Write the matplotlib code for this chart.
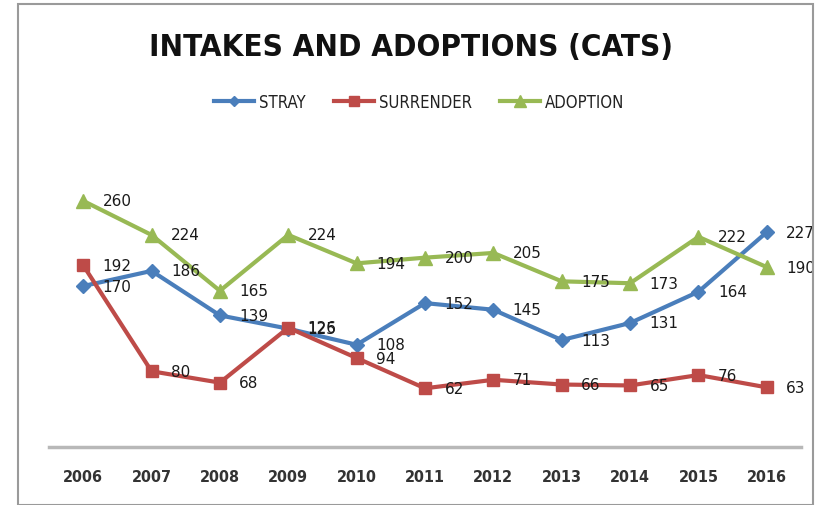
import matplotlib
matplotlib.use("Agg")
import matplotlib.pyplot as plt
from matplotlib.patches import Rectangle
from matplotlib.lines import Line2D

years = ["2006", "2007", "2008", "2009", "2010", "2011", "2012", "2013", "2014", "2015", "2016"]
stray = [170, 186, 139, 125, 108, 152, 145, 113, 131, 164, 227]
surrender = [192, 80, 68, 126, 94, 62, 71, 66, 65, 76, 63]
adoption = [260, 224, 165, 224, 194, 200, 205, 175, 173, 222, 190]

title = "INTAKES AND ADOPTIONS (CATS)"
series_names = ["STRAY", "SURRENDER", "ADOPTION"]
colors = ["#4A7EBB", "#BE4B48", "#98B954"]
markers = ["D", "s", "^"]
msizes = [7, 9, 10]

W, H = 817, 506
fig = plt.figure(figsize=(W / 100, H / 100), dpi=100)
fig.patch.set_facecolor("white")

# outer chart border
fig.patches.append(Rectangle((18 / W, 0.0), (813 - 18) / W, (H - 5) / H,
                             transform=fig.transFigure, fill=False,
                             edgecolor="#9a9a9a", linewidth=1.5))

ax_left, ax_right = 49 / W, 801 / W
ax_bottom = 1 - 448 / H
ax_top = 1 - 164 / H
ax = fig.add_axes([ax_left, ax_bottom, ax_right - ax_left, ax_top - ax_bottom])
ax.set_facecolor("none")

x = list(range(len(years)))
for vals, name, c, m, ms in zip([stray, surrender, adoption], series_names, colors, markers, msizes):
    ax.plot(x, vals, color=c, linewidth=3, marker=m, markersize=ms,
            markerfacecolor=c, markeredgecolor=c, label=name, clip_on=False)
    for xi, v in zip(x, vals):
        ax.annotate(str(v), (xi, v), xytext=(14, 0), textcoords="offset points",
                    ha="left", va="center", fontsize=11, color="#1a1a1a",
                    family="DejaVu Sans")

ax.set_xlim(-0.5, len(years) - 0.5)
ax.set_ylim(0, 300)
ax.set_yticks([])
ax.set_xticks(x)
ax.set_xticklabels(years, fontsize=11.5, fontweight="bold", color="#333333",
                   family="DejaVu Sans", fontstretch="condensed")
ax.tick_params(axis="x", length=0, pad=16)
for s in ["top", "left", "right"]:
    ax.spines[s].set_visible(False)
ax.spines["bottom"].set_color("#b8b8b8")
ax.spines["bottom"].set_linewidth(2.5)

fig.text(411 / W, 1 - 48 / H, title, ha="center", va="center",
         fontsize=22.5, fontweight="bold", color="#111111",
         family="DejaVu Sans", fontstretch="condensed")

leg_handles = [Line2D([0], [0], color=c, linewidth=3, marker=m, markersize=ms * 0.8,
                      markerfacecolor=c, markeredgecolor=c)
               for c, m, ms in zip(colors, markers, msizes)]
leg = fig.legend(leg_handles, series_names, loc="center", ncol=3,
                 bbox_to_anchor=(419 / W, 1 - 103 / H), frameon=False,
                 fontsize=12, handlelength=2.4, handletextpad=0.3,
                 columnspacing=1.7, prop={"stretch": "condensed", "size": 12})
for t in leg.get_texts():
    t.set_color("#222222")

fig.savefig("out.png", dpi=100)
